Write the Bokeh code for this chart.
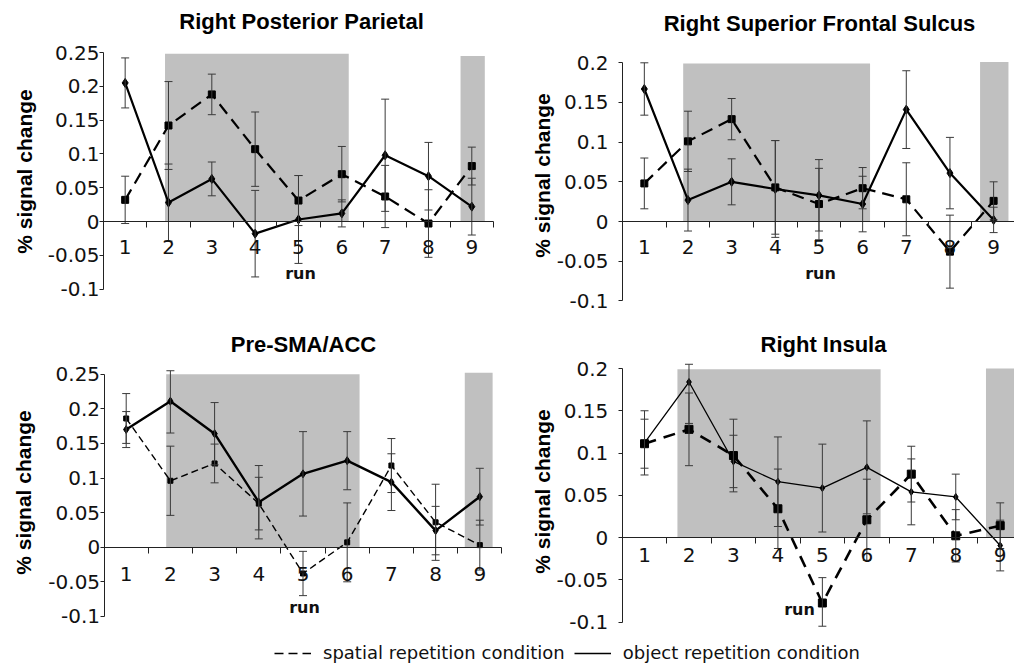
import math
from bokeh.plotting import figure
from bokeh.models import (ColumnDataSource, Whisker, TeeHead, FixedTicker, Legend, LegendItem,
                          LinearAxis, Range1d, Label)
from bokeh.embed import file_html
from bokeh.resources import INLINE

# ---------------- data ----------------
runs = [1, 2, 3, 4, 5, 6, 7, 8, 9]
run_boundaries = [1.5, 2.5, 3.5, 4.5, 5.5, 6.5, 7.5, 8.5, 9.5]

y_ticks_a = [-0.1, -0.05, 0, 0.05, 0.1, 0.15, 0.2, 0.25]
y_labels_a = ["-0.1", "-0.05", "0", "0.05", "0.1", "0.15", "0.2", "0.25"]
y_ticks_b = [-0.1, -0.05, 0, 0.05, 0.1, 0.15, 0.2]
y_labels_b = ["-0.1", "-0.05", "0", "0.05", "0.1", "0.15", "0.2"]

titles = ["Right Posterior Parietal", "Right Superior Frontal Sulcus", "Pre-SMA/ACC", "Right Insula"]
x_title = "run"
y_title = "% signal change"
legend_labels = ["spatial repetition condition", "object repetition condition"]

# Right Posterior Parietal
pp_spatial = [0.032, 0.142, 0.188, 0.107, 0.031, 0.070, 0.037, -0.003, 0.082]
pp_spatial_err = [0.035, 0.065, 0.030, 0.055, 0.037, 0.041, 0.046, 0.050, 0.028]
pp_object = [0.205, 0.028, 0.063, -0.018, 0.003, 0.012, 0.098, 0.067, 0.022]
pp_object_err = [0.037, 0.057, 0.025, 0.064, 0.065, 0.020, 0.083, 0.050, 0.042]
pp_shade_left = [1.92, 8.74]
pp_shade_right = [6.16, 9.30]
pp_shade_top = [0.248, 0.245]

# Right Superior Frontal Sulcus
sfs_spatial = [0.048, 0.101, 0.129, 0.043, 0.022, 0.042, 0.028, -0.038, 0.026]
sfs_spatial_err = [0.032, 0.038, 0.026, 0.059, 0.045, 0.026, 0.046, 0.046, 0.024]
sfs_object = [0.167, 0.027, 0.050, 0.041, 0.033, 0.022, 0.141, 0.061, 0.002]
sfs_object_err = [0.033, 0.039, 0.029, 0.061, 0.045, 0.035, 0.049, 0.045, 0.016]
sfs_shade_left = [1.89, 8.69]
sfs_shade_right = [6.17, 9.34]
sfs_shade_top = [0.199, 0.201]

# Pre-SMA/ACC
sma_spatial = [0.186, 0.096, 0.121, 0.063, -0.038, 0.007, 0.118, 0.036, 0.003]
sma_spatial_err = [0.036, 0.050, 0.028, 0.038, 0.032, 0.057, 0.039, 0.055, 0.036]
sma_object = [0.170, 0.211, 0.164, 0.065, 0.106, 0.125, 0.094, 0.024, 0.073]
sma_object_err = [0.026, 0.046, 0.045, 0.053, 0.061, 0.042, 0.041, 0.035, 0.041]
sma_shade_left = [1.905, 8.66]
sma_shade_right = [6.28, 9.29]
sma_shade_top = [0.25, 0.252]

# Right Insula
ins_spatial = [0.111, 0.128, 0.097, 0.034, -0.0775, 0.021, 0.075, 0.002, 0.014]
ins_spatial_err = [0.029, 0.043, 0.043, 0.047, 0.030, 0.048, 0.033, 0.031, 0.027]
ins_object = [0.112, 0.184, 0.090, 0.066, 0.0585, 0.083, 0.054, 0.048, -0.0095]
ins_object_err = [0.038, 0.049, 0.031, 0.053, 0.052, 0.055, 0.039, 0.027, 0.030]
ins_shade_left = [1.74, 8.68]
ins_shade_right = [6.31, 9.5]
ins_shade_top = [0.199, 0.2]

# ---------------- layout / style ----------------
W, H = 1014, 663
TICK_FONT = "DejaVu Sans"
BOLD_FONT = "Liberation Sans"
SHADE = "#c0c0c0"
ERR = "#3a3a3a"
AX = "#222222"
CLIP = 0.005   # error bars are cut at the edge of the plot area, as in the source

p = figure(width=W, height=H, output_backend="svg", toolbar_location=None,
           x_range=Range1d(0, 1), y_range=Range1d(0, 1),
           x_axis_location=None, y_axis_location=None, min_border=0)
p.grid.visible = False
p.outline_line_color = None
p.background_fill_color = "white"
p.border_fill_color = "white"


def panel(name, title, spatial, spatial_err, obj, obj_err, shade_l, shade_r, shade_t,
          y_ticks, y_labels, geom, txt, sp_style, ob_style):
    # geom: page x of x=0.5, px per run, page y of value 0, px per unit
    x0, kx, y0, ky = geom
    xs = 0.5 - x0 / kx
    ys = -(H - y0) / ky
    xr, yr = name + "_x", name + "_y"
    p.extra_x_ranges[xr] = Range1d(xs, xs + W / kx)
    p.extra_y_ranges[yr] = Range1d(ys, ys + H / ky)
    kw = dict(x_range_name=xr, y_range_name=yr)

    p.quad(left=shade_l, right=shade_r, bottom=[0] * len(shade_l), top=shade_t,
           fill_color=SHADE, line_color=None, **kw)

    xa = LinearAxis(fixed_location=0, bounds=(0.5, 9.5),
                    ticker=FixedTicker(ticks=runs, minor_ticks=run_boundaries),
                    major_tick_out=0, major_tick_in=0, minor_tick_out=6, minor_tick_in=0,
                    axis_line_color=AX, minor_tick_line_color=AX,
                    major_label_text_font=TICK_FONT, major_label_text_font_size="20px",
                    major_label_text_color="#111111", major_label_standoff=txt["xstand"], **kw)
    p.add_layout(xa, "below")
    ya = LinearAxis(fixed_location=0.5, bounds=(y_ticks[0], y_ticks[-1]),
                    ticker=FixedTicker(ticks=y_ticks, minor_ticks=[]),
                    major_label_overrides={t: l for t, l in zip(y_ticks, y_labels)},
                    major_tick_out=4, major_tick_in=0,
                    axis_line_color=AX, major_tick_line_color=AX,
                    major_label_text_font=TICK_FONT, major_label_text_font_size="20px",
                    major_label_text_color="#111111", major_label_standoff=txt["ystand"], **kw)
    p.add_layout(ya, "left")

    lo_lim, hi_lim = y_ticks[0] - CLIP, y_ticks[-1] + CLIP
    for vals, errs in ((spatial, spatial_err), (obj, obj_err)):
        src = ColumnDataSource(dict(x=runs,
                                    lower=[max(v - e, lo_lim) for v, e in zip(vals, errs)],
                                    upper=[min(v + e, hi_lim) for v, e in zip(vals, errs)]))
        w = Whisker(source=src, base="x", lower="lower", upper="upper",
                    line_color=ERR, line_width=1,
                    upper_head=TeeHead(size=8, line_color=ERR, line_width=1),
                    lower_head=TeeHead(size=8, line_color=ERR, line_width=1),
                    level="glyph", **kw)
        p.add_layout(w)

    p.line(runs, spatial, line_color="black", line_width=sp_style["lw"],
           line_dash=sp_style["dash"], **kw)
    p.scatter(runs, spatial, marker="square", size=sp_style["ms"],
              fill_color="black", line_color="black", **kw)
    p.line(runs, obj, line_color="black", line_width=ob_style["lw"], **kw)
    p.scatter(runs, obj, marker="diamond", size=ob_style["ms"],
              fill_color="black", line_color="black", **kw)

    tx, ty = txt["title"]
    p.add_layout(Label(x=tx, y=H - ty, x_units="screen", y_units="screen", text=title,
                       text_font=BOLD_FONT, text_font_style="bold", text_font_size="22px",
                       text_color="black", text_align="center", text_baseline="middle"))
    lx, ly = txt["ylab"]
    p.add_layout(Label(x=lx, y=H - ly, x_units="screen", y_units="screen", text=y_title,
                       angle=math.pi / 2, text_font=BOLD_FONT, text_font_style="bold",
                       text_font_size="21px", text_color="black",
                       text_align="center", text_baseline="middle"))
    rx, ry = txt["run"]
    p.add_layout(Label(x=rx, y=H - ry, x_units="screen", y_units="screen", text=x_title,
                       text_font=TICK_FONT, text_font_style="bold", text_font_size="16px",
                       text_color="#111111", text_align="center", text_baseline="middle"))


panel("pp", titles[0], pp_spatial, pp_spatial_err, pp_object, pp_object_err,
      pp_shade_left, pp_shade_right, pp_shade_top, y_ticks_a, y_labels_a,
      (103.0, 43.33, 221.0, 676.0),
      dict(title=(301, 21), ylab=(24, 171), run=(300, 273), xstand=12, ystand=0),
      dict(lw=2.2, dash="12 7", ms=7), dict(lw=2.2, ms=9))
panel("sfs", titles[1], sfs_spatial, sfs_spatial_err, sfs_object, sfs_object_err,
      sfs_shade_left, sfs_shade_right, sfs_shade_top, y_ticks_b, y_labels_b,
      (622.0, 43.66, 221.0, 793.5),
      dict(title=(819, 23), ylab=(542, 175), run=(820, 273), xstand=12, ystand=10),
      dict(lw=2.2, dash="12 7", ms=7), dict(lw=2.2, ms=9))
panel("sma", titles[2], sma_spatial, sma_spatial_err, sma_object, sma_object_err,
      sma_shade_left, sma_shade_right, sma_shade_top, y_ticks_a, y_labels_a,
      (103.6, 44.2, 546.7, 692.0),
      dict(title=(303, 344), ylab=(23, 492), run=(304, 607), xstand=14, ystand=0),
      dict(lw=1.4, dash="7 4", ms=5), dict(lw=2.4, ms=8))
panel("ins", titles[3], ins_spatial, ins_spatial_err, ins_object, ins_object_err,
      ins_shade_left, ins_shade_right, ins_shade_top, y_ticks_b, y_labels_b,
      (621.8, 44.46, 537.0, 845.0),
      dict(title=(823, 344), ylab=(542, 491), run=(799, 609), xstand=4, ystand=10),
      dict(lw=2.6, dash="12 8", ms=8), dict(lw=1.3, ms=7))

# legend (renderers carry no visible data)
nan = float("nan")
r_sp = p.line([nan], [nan], line_color="black", line_width=1.6, line_dash="9 5")
r_ob = p.line([nan], [nan], line_color="black", line_width=1.6)
leg = Legend(items=[LegendItem(label=legend_labels[0], renderers=[r_sp]),
                    LegendItem(label=legend_labels[1], renderers=[r_ob])],
             orientation="horizontal", location=(274, 0),
             label_text_font=TICK_FONT, label_text_font_size="18px", label_text_color="#111111",
             glyph_width=37, glyph_height=20, label_height=20, label_standoff=12,
             spacing=9, padding=0, margin=0, border_line_color=None,
             background_fill_alpha=0)
p.add_layout(leg)

with open("out.html", "w") as f:
    f.write(file_html(p, INLINE))
